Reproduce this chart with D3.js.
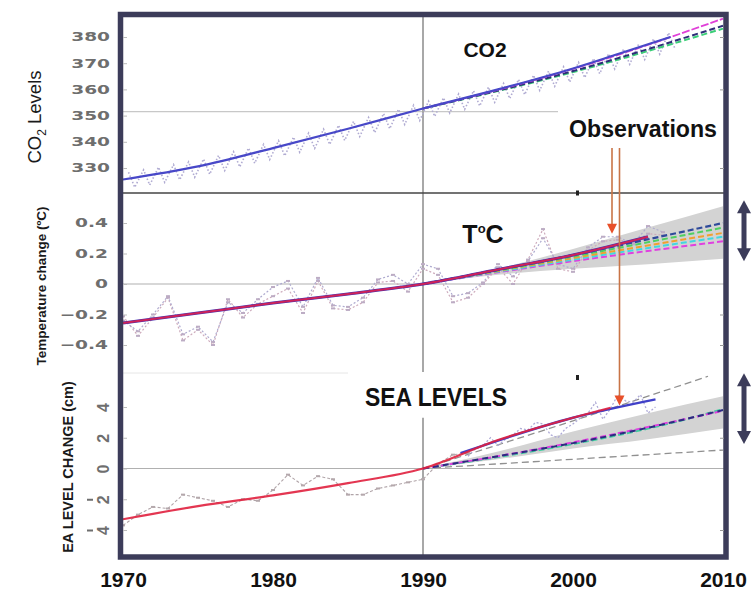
<!DOCTYPE html>
<html>
<head>
<meta charset="utf-8">
<script src="https://cdn.jsdelivr.net/npm/d3@7"></script>
<style>
body { margin: 0; background: #fff; }
svg { display: block; }
</style>
</head>
<body>
<div id="chart"></div>
<script>
// x axis
const xTickYears = [1970, 1980, 1990, 2000, 2010]

// co2 panel
const co2Ticks = [330, 340, 350, 360, 370, 380]
const co2TrendYears = [1970, 1975, 1980, 1985, 1990, 1995, 2000, 2003, 2006.5]
const co2Trend = [325.6, 330.6, 337.6, 345.0, 352.7, 360.0, 368.0, 373.5, 380.0]
const co2ObsYears = [1970, 1971, 1972, 1973, 1974, 1975, 1976, 1977, 1978, 1979, 1980, 1981, 1982, 1983, 1984, 1985, 1986, 1987, 1988, 1989, 1990, 1991, 1992, 1993, 1994, 1995, 1996, 1997, 1998, 1999, 2000, 2001, 2002, 2003, 2004, 2005, 2006]
const co2High = [328.4, 329.3, 330.3, 331.3, 332.3, 333.4, 334.8, 336.2, 337.6, 339.0, 340.4, 341.8, 343.3, 344.8, 346.3, 347.8, 349.3, 350.8, 352.4, 353.9, 355.5, 356.8, 358.2, 359.5, 360.9, 362.3, 363.8, 365.4, 367.0, 368.6, 370.3, 371.8, 373.6, 375.4, 377.2, 379.3, 381.6]
const co2Low = [322.6, 323.5, 324.5, 325.5, 326.5, 327.6, 329.0, 330.4, 331.8, 333.2, 334.6, 336.0, 337.5, 339.0, 340.5, 342.0, 343.5, 345.0, 346.6, 348.1, 349.7, 351.0, 352.4, 353.7, 355.1, 356.5, 358.0, 359.6, 361.2, 362.8, 364.5, 366.0, 367.8, 369.6, 371.4, 373.5, 375.8]
const co2ProjYears = [1990, 2000, 2010]
const co2ProjMagenta = [352.7, 367.8, 387.0]
const co2ProjGreen = [352.7, 366.6, 383.2]
const co2ProjNavy = [352.7, 367.0, 384.3]

// temperature panel
const tempTicks = [-0.4, -0.2, 0, 0.2, 0.4]
const tempObsYears = [1970, 1971, 1972, 1973, 1974, 1975, 1976, 1977, 1978, 1979, 1980, 1981, 1982, 1983, 1984, 1985, 1986, 1987, 1988, 1989, 1990, 1991, 1992, 1993, 1994, 1995, 1996, 1997, 1998, 1999, 2000, 2001, 2002, 2003, 2004, 2005, 2006]
const tempObsA = [-0.21, -0.34, -0.22, -0.09, -0.37, -0.30, -0.40, -0.10, -0.22, -0.13, -0.08, -0.03, -0.19, 0.02, -0.16, -0.17, -0.12, 0.01, 0.02, -0.05, 0.10, 0.06, -0.12, -0.09, 0.00, 0.11, 0.00, 0.16, 0.36, 0.10, 0.08, 0.22, 0.28, 0.29, 0.27, 0.33, 0.32]
const tempObsB = [-0.24, -0.31, -0.20, -0.08, -0.33, -0.28, -0.38, -0.12, -0.19, -0.10, -0.02, 0.02, -0.15, 0.04, -0.14, -0.15, -0.09, 0.03, 0.06, 0.00, 0.13, 0.10, -0.08, -0.06, 0.01, 0.13, 0.05, 0.15, 0.30, 0.13, 0.10, 0.24, 0.31, 0.31, 0.26, 0.38, 0.34]
const tempTrendYears = [1970, 1975, 1980, 1985, 1990, 1995, 2000, 2005]
const tempTrend = [-0.255, -0.19, -0.125, -0.065, 0, 0.095, 0.19, 0.31]
const tempBandYears = [1990, 1995, 2000, 2005, 2010]
const tempBandLow = [0, 0.06, 0.10, 0.13, 0.165]
const tempBandHigh = [0, 0.10, 0.23, 0.37, 0.51]
const tempProjYears = [1990, 2000, 2010]
const tempProjNavy = [0, 0.19, 0.40]
const tempProjGreen = [0, 0.18, 0.37]
const tempProjOrange = [0, 0.17, 0.335]
const tempProjCyan = [0, 0.16, 0.31]
const tempProjMagenta = [0, 0.15, 0.28]

// sea level panel
const seaTicks = [-4, -2, 0, 2, 4]
const tideYears = [1970, 1971, 1972, 1973, 1974, 1975, 1976, 1977, 1978, 1979, 1980, 1981, 1982, 1983, 1984, 1985, 1986, 1987, 1988, 1989, 1990, 1991, 1992, 1993]
const tideLevels = [-3.7, -3.0, -2.5, -2.6, -1.7, -1.9, -2.1, -2.5, -2.0, -2.1, -1.4, -0.4, -1.1, -0.5, -0.7, -1.7, -1.7, -1.3, -1.1, -0.9, -0.7, 0.3, 0.9, 1.0]
const satYears = [1993, 1993.5, 1994, 1994.5, 1995, 1995.5, 1996, 1996.5, 1997, 1997.5, 1998, 1998.5, 1999, 1999.5, 2000, 2000.5, 2001, 2001.5, 2002, 2002.5, 2003, 2003.5, 2004, 2004.5, 2005, 2005.5]
const satLevels = [0.8, 1.3, 1.5, 2.0, 1.5, 1.9, 2.2, 2.6, 2.5, 3.0, 2.9, 2.2, 2.0, 2.6, 2.9, 3.3, 3.6, 4.3, 3.2, 3.9, 4.8, 4.4, 4.3, 4.8, 3.6, 4.0]
const seaTrendYears = [1970, 1975, 1980, 1985, 1990, 1995, 2000, 2002.5]
const seaTrend = [-3.3, -2.45, -1.75, -0.95, 0, 1.85, 3.3, 3.95]
const seaSatTrendYears = [1992.5, 2000, 2005.5]
const seaSatTrend = [1.0, 3.3, 4.5]
const seaBandYears = [1990, 1995, 2000, 2005, 2010]
const seaBandLow = [0, 0.6, 1.3, 1.9, 2.6]
const seaBandHigh = [0, 1.1, 2.4, 3.6, 4.7]
const seaProjYears = [1990, 1995, 2000, 2005, 2010]
const seaProjGreen = [0, 0.75, 1.6, 2.6, 3.85]
const seaProjMagenta = [0, 0.8, 1.7, 2.7, 3.75]
const seaProjNavy = [0, 0.8, 1.65, 2.65, 3.8]
const seaUpperYears = [1990, 2000, 2009]
const seaUpper = [0, 3.1, 6.0]
const seaLowerYears = [1990, 2000, 2010]
const seaLower = [0, 0.6, 1.2]

// annotations
const obsArrowYears = [2002.6, 2003.1]
const obsArrowTipTemp = 0.33
const obsArrowTipSea = 4.1
const rangeArrowTemp = [0.15, 0.55]
const rangeArrowSea = [1.6, 6.2]


class ClimateChart {

    constructor() {
        this.width = 751
        this.height = 593
        this.frame = { left: 120.5, top: 14.5, right: 726, bottom: 557 }
        this.div1 = 193
        this.div2 = 373

        this.svg = d3.select("#chart").append("svg")
            .attr("width", this.width)
            .attr("height", this.height)

        this.x = d3.scaleLinear().domain([1970, 2010]).range([123, 723])
        this.yC = d3.scaleLinear().domain([330, 380]).range([168, 37])
        this.yT = d3.scaleLinear().domain([-0.4, 0.4]).range([345, 223])
        this.yS = d3.scaleLinear().domain([-4, 4]).range([530, 407])

        this.drawGrid()
        this.drawCo2()
        this.drawTemp()
        this.drawSea()
        this.drawFrame()
        this.drawAxes()
        this.drawLabels()
        this.drawArrows()
    }

    pts(xs, ys) {
        return xs.map((d, i) => [d, ys[i]])
    }

    line(y, curve) {
        return d3.line()
            .x(d => this.x(d[0]))
            .y(d => y(d[1]))
            .curve(curve || d3.curveMonotoneX)
    }

    path(g, data, y, color, width, dash, curve) {
        return g.append("path")
            .datum(data)
            .attr("d", this.line(y, curve))
            .attr("fill", "none")
            .attr("stroke", color)
            .attr("stroke-width", width)
            .attr("stroke-dasharray", dash || null)
            .attr("stroke-linecap", "butt")
    }

    band(g, years, lo, hi, y) {
        var area = d3.area()
            .x((d, i) => this.x(years[i]))
            .y0((d, i) => y(lo[i]))
            .y1((d, i) => y(hi[i]))
            .curve(d3.curveMonotoneX)
        g.append("path").datum(years).attr("d", area).attr("fill", "#d3d3d3")
    }

    drawGrid() {
        var g = this.svg.append("g")
        var f = this.frame

        // zero lines
        g.append("line").attr("x1", f.left).attr("x2", f.right)
            .attr("y1", this.yT(0)).attr("y2", this.yT(0))
            .attr("stroke", "#b0b0b0").attr("stroke-width", 1.2)
        g.append("line").attr("x1", f.left).attr("x2", f.right)
            .attr("y1", this.yS(0)).attr("y2", this.yS(0))
            .attr("stroke", "#b0b0b0").attr("stroke-width", 1.2)

        // co2 reference line
        g.append("line").attr("x1", f.left).attr("x2", this.x(1999))
            .attr("y1", this.yC(351.5)).attr("y2", this.yC(351.5))
            .attr("stroke", "#c8c8c8").attr("stroke-width", 1.2)

        // faint bottom of temperature panel
        g.append("line").attr("x1", f.left).attr("x2", this.x(1985))
            .attr("y1", this.div2).attr("y2", this.div2)
            .attr("stroke", "#e6e6e6").attr("stroke-width", 1)

        // 1990 vertical line, broken by the sea level title
        g.append("line").attr("x1", this.x(1990)).attr("x2", this.x(1990))
            .attr("y1", f.top).attr("y2", this.div2 - 1)
            .attr("stroke", "#a8a8a8").attr("stroke-width", 2)
        g.append("line").attr("x1", this.x(1990)).attr("x2", this.x(1990))
            .attr("y1", this.yS(3.3)).attr("y2", f.bottom)
            .attr("stroke", "#a8a8a8").attr("stroke-width", 2)

        // panel divider
        g.append("line").attr("x1", f.left).attr("x2", f.right)
            .attr("y1", this.div1).attr("y2", this.div1)
            .attr("stroke", "#444").attr("stroke-width", 1.5)
        g.append("rect").attr("x", this.x(2000.3) - 1.5).attr("y", this.div1 - 2.5)
            .attr("width", 3).attr("height", 5).attr("fill", "#222")
        g.append("rect").attr("x", this.x(2000.3) - 1.5).attr("y", this.div2 + 2)
            .attr("width", 3).attr("height", 5).attr("fill", "#222")
    }

    drawCo2() {
        var g = this.svg.append("g")
        var y = this.yC

        // seasonal cycle as a dotted zigzag
        var obs = []
        co2ObsYears.forEach((yr, i) => {
            obs.push([yr + 0.37, co2High[i]])
            obs.push([yr + 0.78, co2Low[i]])
        })
        this.path(g, obs, y, "#b0abd2", 1.6, "1.5,2", d3.curveLinear)

        this.path(g, this.pts(co2ProjYears, co2ProjGreen), y, "#3ccf78", 2, "6,3")
        this.path(g, this.pts(co2ProjYears, co2ProjNavy), y, "#2e2e78", 2, "6,3")
        this.path(g, this.pts(co2ProjYears, co2ProjMagenta), y, "#e040d8", 1.8, "8,2")
        this.path(g, this.pts(co2TrendYears, co2Trend), y, "#4848c8", 2.2)
    }

    drawTemp() {
        var g = this.svg.append("g")
        var y = this.yT

        this.band(g, tempBandYears, tempBandLow, tempBandHigh, y)

        var obsA = this.pts(tempObsYears, tempObsA)
        var obsB = this.pts(tempObsYears, tempObsB)
        this.path(g, obsA, y, "#cdaabb", 1.2, "2,2", d3.curveLinear)
        this.path(g, obsB, y, "#aeaacf", 1.2, "2,2", d3.curveLinear)
        g.selectAll(".tA").data(obsA.concat(obsB)).enter().append("rect")
            .attr("x", d => this.x(d[0]) - 2).attr("y", d => y(d[1]) - 1)
            .attr("width", 4).attr("height", 2).attr("fill", "#bcacc4")

        this.path(g, this.pts(tempProjYears, tempProjMagenta), y, "#e040e0", 2, "6,3")
        this.path(g, this.pts(tempProjYears, tempProjCyan), y, "#40d8e0", 2, "6,3")
        this.path(g, this.pts(tempProjYears, tempProjOrange), y, "#f0a030", 2, "6,3")
        this.path(g, this.pts(tempProjYears, tempProjGreen), y, "#50d060", 2, "6,3")
        this.path(g, this.pts(tempProjYears, tempProjNavy), y, "#2e4a9a", 2.2, "6,3")

        var trend = this.pts(tempTrendYears, tempTrend)
        this.path(g, trend, y, "#4030b0", 3)
        this.path(g, trend, y, "#e8204a", 2).attr("stroke-opacity", 0.85)
    }

    drawSea() {
        var g = this.svg.append("g")
        var y = this.yS

        this.band(g, seaBandYears, seaBandLow, seaBandHigh, y)

        this.path(g, this.pts(seaUpperYears, seaUpper), y, "#909090", 1.3, "7,4")
        this.path(g, this.pts(seaLowerYears, seaLower), y, "#909090", 1.3, "7,4")

        var tide = this.pts(tideYears, tideLevels)
        this.path(g, tide, y, "#b0a4a8", 1.1, "3,2", d3.curveLinear)
        g.selectAll(".tide").data(tide).enter().append("rect")
            .attr("x", d => this.x(d[0]) - 2).attr("y", d => y(d[1]) - 1)
            .attr("width", 4).attr("height", 2).attr("fill", "#b4a8ac")

        var sat = this.pts(satYears, satLevels)
        this.path(g, sat, y, "#aeaad6", 1.3, "2,2", d3.curveLinear)

        this.path(g, this.pts(seaProjYears, seaProjGreen), y, "#40d0a0", 2.2, "6,3")
        this.path(g, this.pts(seaProjYears, seaProjMagenta), y, "#e040e0", 2, "6,3")
        this.path(g, this.pts(seaProjYears, seaProjNavy), y, "#2c2c80", 2, "6,4")

        this.path(g, this.pts(seaSatTrendYears, seaSatTrend), y, "#4040c8", 2.4)
        this.path(g, this.pts(seaTrendYears, seaTrend), y, "#e0203e", 2.2).attr("stroke-opacity", 0.9)
    }

    drawFrame() {
        var f = this.frame
        this.svg.append("rect")
            .attr("x", f.left).attr("y", f.top)
            .attr("width", f.right - f.left).attr("height", f.bottom - f.top)
            .attr("fill", "none")
            .attr("stroke", "#3c3c5a")
            .attr("stroke-width", 5.5)
    }

    styleTicks(g, pad) {
        g.select(".domain").remove()
        g.selectAll(".tick line").attr("stroke", "#bbb")
        g.selectAll(".tick text")
            .attr("fill", "#6e6e6e")
            .attr("font-family", "DejaVu Sans, sans-serif")
            .attr("font-weight", "bold")
            .attr("font-size", 12)
            .attr("x", -pad / 1.55)
            .attr("transform", "scale(1.55,1)")
    }

    drawAxes() {
        var left = 123
        var right = 724

        var gc = this.svg.append("g").attr("transform", `translate(${left},0)`)
            .call(d3.axisLeft(this.yC).tickValues(co2Ticks).tickSize(-4).tickPadding(13))
        this.styleTicks(gc, 13)

        var gt = this.svg.append("g").attr("transform", `translate(${left},0)`)
            .call(d3.axisLeft(this.yT).tickValues(tempTicks).tickSize(-4).tickPadding(15)
                .tickFormat(d => d === 0 ? "0" : d3.format(".1f")(d)))
        this.styleTicks(gt, 15)

        // sea level ticks: glyphs turned on their side
        var gs = this.svg.append("g").attr("transform", `translate(${left},0)`)
            .call(d3.axisLeft(this.yS).tickValues(seaTicks).tickSize(-4).tickFormat(""))
        gs.select(".domain").remove()
        gs.selectAll(".tick line").attr("stroke", "#bbb")
        gs.selectAll(".tick").each(function (d) {
            var t = d3.select(this)
            t.append("text")
                .attr("transform", "translate(-20,0) rotate(-90)")
                .attr("text-anchor", "middle")
                .attr("dy", "0.36em")
                .attr("fill", "#6e6e6e")
                .attr("font-family", "Liberation Sans, Arial, sans-serif")
                .attr("font-weight", "bold")
                .attr("font-size", 16)
                .text(Math.abs(d))
            if (d < 0) {
                t.append("rect").attr("x", -36).attr("y", -1)
                    .attr("width", 6).attr("height", 2).attr("fill", "#6e6e6e")
            }
        })

        // inner ticks on the right border
        var rt = [[this.yC, [330, 360, 380]], [this.yT, [-0.4, -0.2]], [this.yS, [-4, 2]]]
        rt.forEach(r => {
            var g = this.svg.append("g").attr("transform", `translate(${right},0)`)
                .call(d3.axisRight(r[0]).tickValues(r[1]).tickSize(-4).tickFormat(""))
            g.select(".domain").remove()
            g.selectAll(".tick line").attr("stroke", "#999")
        })

        var gx = this.svg.append("g").attr("transform", "translate(0,587)")
            .call(d3.axisBottom(this.x).tickValues(xTickYears).tickSize(0).tickPadding(0)
                .tickFormat(d3.format("d")))
        gx.select(".domain").remove()
        gx.selectAll(".tick text")
            .attr("dy", 0)
            .attr("fill", "#111")
            .attr("font-family", "Liberation Sans Narrow, Arial Narrow, sans-serif")
            .attr("font-weight", "bold")
            .attr("font-size", 21)
    }

    drawLabels() {
        var svg = this.svg

        var co2Title = svg.append("text")
            .attr("transform", "translate(41,117) rotate(-90)")
            .attr("text-anchor", "middle")
            .attr("font-family", "Liberation Sans, Arial, sans-serif")
            .attr("font-size", 18.5)
            .attr("fill", "#1a1a1a")
        co2Title.append("tspan").text("CO")
        co2Title.append("tspan").attr("font-size", 12).attr("dy", 5).text("2")
        co2Title.append("tspan").attr("dy", -5).text(" Levels")

        svg.append("text")
            .attr("transform", "translate(46,286) rotate(-90)")
            .attr("text-anchor", "middle")
            .attr("font-family", "Liberation Sans, Arial, sans-serif")
            .attr("font-weight", "bold")
            .attr("font-size", 13.5)
            .attr("fill", "#1a1a1a")
            .text("Temperature change (ºC)")

        svg.append("text")
            .attr("transform", "translate(73,467) rotate(-90)")
            .attr("text-anchor", "middle")
            .attr("font-family", "Liberation Sans, Arial, sans-serif")
            .attr("font-weight", "bold")
            .attr("font-size", 14.5)
            .attr("fill", "#1a1a1a")
            .text("EA LEVEL CHANGE (cm)")

        svg.append("text")
            .attr("x", 485).attr("y", 57)
            .attr("text-anchor", "middle")
            .attr("font-family", "Liberation Sans, Arial, sans-serif")
            .attr("font-weight", "bold")
            .attr("font-size", 21)
            .attr("fill", "#111")
            .text("CO2")

        var tc = svg.append("text")
            .attr("x", 483).attr("y", 243)
            .attr("text-anchor", "middle")
            .attr("font-family", "Liberation Sans, Arial, sans-serif")
            .attr("font-weight", "bold")
            .attr("font-size", 25)
            .attr("fill", "#111")
        tc.append("tspan").text("T")
        tc.append("tspan").attr("font-size", 13).attr("dy", -10).text("o")
        tc.append("tspan").attr("dy", 10).text("C")

        // white box behind sea level title
        svg.append("rect").attr("x", 362).attr("y", 382).attr("width", 150).attr("height", 28)
            .attr("fill", "#fff")
        svg.append("text")
            .attr("x", 365).attr("y", 406)
            .attr("textLength", 142).attr("lengthAdjust", "spacingAndGlyphs")
            .attr("font-family", "Liberation Sans Narrow, Arial Narrow, sans-serif")
            .attr("font-weight", "bold")
            .attr("font-size", 26)
            .attr("fill", "#111")
            .text("SEA LEVELS")

        svg.append("text")
            .attr("x", 569).attr("y", 137)
            .attr("textLength", 148).attr("lengthAdjust", "spacingAndGlyphs")
            .attr("font-family", "Liberation Sans Narrow, Arial Narrow, sans-serif")
            .attr("font-weight", "bold")
            .attr("font-size", 23)
            .attr("fill", "#111")
            .text("Observations")
    }

    drawArrows() {
        var svg = this.svg
        var startY = 148
        var tips = [this.yT(obsArrowTipTemp), this.yS(obsArrowTipSea)]

        obsArrowYears.forEach((yr, i) => {
            var ax = this.x(yr)
            svg.append("line")
                .attr("x1", ax).attr("x2", ax)
                .attr("y1", startY).attr("y2", tips[i] - 8)
                .attr("stroke", "#c87446").attr("stroke-width", 1.6)
            svg.append("path")
                .attr("d", `M${ax - 5},${tips[i] - 10}L${ax + 5},${tips[i] - 10}L${ax},${tips[i]}Z`)
                .attr("fill", "#e8502a")
        })

        // double-headed range arrows at the right
        var ranges = [[this.yT, rangeArrowTemp], [this.yS, rangeArrowSea]]
        var cx = 744
        ranges.forEach(r => {
            var top = r[0](r[1][1])
            var bot = r[0](r[1][0])
            svg.append("rect").attr("x", cx - 2.5).attr("y", top + 10)
                .attr("width", 5).attr("height", bot - top - 20).attr("fill", "#3c3c5a")
            svg.append("path")
                .attr("d", `M${cx},${top}L${cx + 7},${top + 13}L${cx - 7},${top + 13}Z`)
                .attr("fill", "#3c3c5a")
            svg.append("path")
                .attr("d", `M${cx},${bot}L${cx + 7},${bot - 13}L${cx - 7},${bot - 13}Z`)
                .attr("fill", "#3c3c5a")
        })
    }
}

new ClimateChart()
</script>
</body>
</html>
